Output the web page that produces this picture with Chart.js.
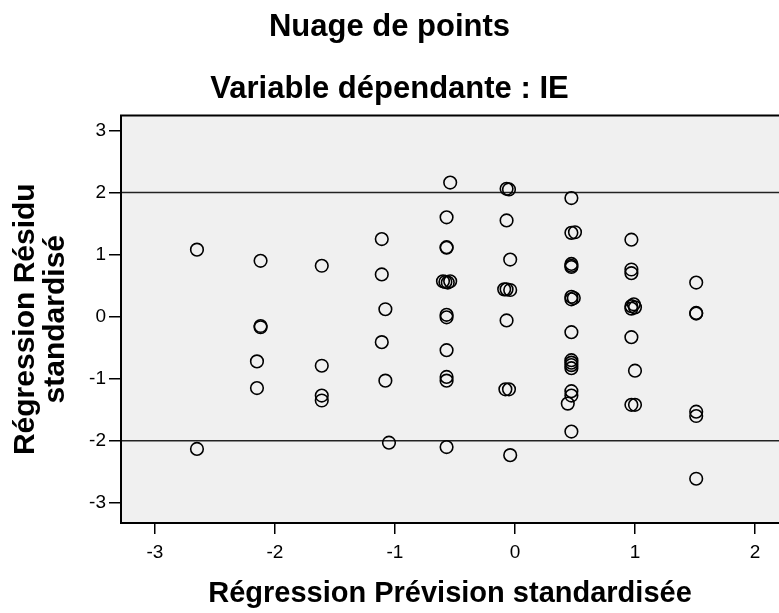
<!DOCTYPE html>
<html>
<head>
<meta charset="utf-8">
<script src="https://cdn.jsdelivr.net/npm/chart.js@4/dist/chart.umd.min.js"></script>
<style>
  html, body { margin: 0; padding: 0; background: #fff; }
  #wrap { width: 779px; height: 613px; }
</style>
</head>
<body>
<div id="wrap"><canvas id="chart"></canvas></div>
<script>
// predicted (x) and residual (y) values, read column by column
const predicted = [
  -2.65, -2.65,
  -2.12, -2.12, -2.12, -2.15, -2.15,
  -1.61, -1.61, -1.61, -1.61,
  -1.11, -1.11, -1.08, -1.11, -1.08, -1.05,
  -0.54, -0.57, -0.57, -0.57, -0.60, -0.58, -0.56, -0.54, -0.57, -0.57, -0.57, -0.57, -0.57, -0.57,
  -0.07, -0.05, -0.07, -0.04, -0.09, -0.07, -0.04, -0.07, -0.08, -0.05, -0.04,
  0.47, 0.47, 0.50, 0.47, 0.47, 0.47, 0.47, 0.49, 0.47, 0.47, 0.47, 0.47, 0.47, 0.47, 0.47, 0.47, 0.44, 0.47,
  0.97, 0.97, 0.97, 0.97, 0.99, 1.00, 0.97, 0.97, 1.00, 0.97, 1.00,
  1.51, 1.51, 1.51, 1.51, 1.51, 1.51
];
const residual = [
  1.08, -2.13,
  0.90, -0.15, -0.17, -0.72, -1.15,
  0.82, -0.79, -1.27, -1.35,
  1.25, 0.68, 0.12, -0.41, -1.03, -2.03,
  2.16, 1.60, 1.11, 1.12, 0.57, 0.56, 0.55, 0.57, 0.03, -0.01, -0.54, -0.97, -1.03, -2.10,
  2.06, 2.05, 1.55, 0.92, 0.44, 0.44, 0.43, -0.06, -1.17, -1.17, -2.23,
  1.91, 1.35, 1.36, 0.85, 0.82, 0.80, 0.32, 0.30, 0.28, -0.25, -0.70, -0.74, -0.78, -0.83, -1.20, -1.27, -1.40, -1.85,
  1.24, 0.76, 0.70, 0.17, 0.20, 0.15, 0.13, -0.33, -0.87, -1.42, -1.42,
  0.55, 0.06, 0.05, -1.53, -1.60, -2.61
];
const refLines = [2, -2];
const xMin = -3.283, xMax = 2.2;
const yMin = -3.323, yMax = 3.242;

const points = predicted.map((x, i) => ({ x: x, y: residual[i] }));

const datasets = refLines.map(v => ({
  type: 'line',
  data: [{ x: xMin, y: v }, { x: xMax, y: v }],
  borderColor: '#222',
  borderWidth: 1.5,
  pointRadius: 0,
  order: 2,
}));
datasets.push({
  type: 'scatter',
  data: points,
  pointStyle: 'circle',
  pointRadius: 6.3,
  borderColor: '#000',
  borderWidth: 1.6,
  backgroundColor: 'rgba(0,0,0,0)',
  order: 1,
});

const frame = {
  id: 'frame',
  beforeDraw(chart) {
    const { ctx, chartArea: a } = chart;
    ctx.save();
    ctx.fillStyle = '#f0f0f0';
    ctx.fillRect(a.left, a.top, a.right - a.left, a.bottom - a.top);
    ctx.restore();
  },
  afterDraw(chart) {
    const { ctx, chartArea: a } = chart;
    ctx.save();
    ctx.strokeStyle = '#000';
    ctx.lineWidth = 2;
    ctx.beginPath();
    ctx.moveTo(a.right + 2, a.top);
    ctx.lineTo(a.left, a.top);
    ctx.lineTo(a.left, a.bottom);
    ctx.lineTo(a.right + 2, a.bottom);
    ctx.stroke();
    ctx.restore();
  }
};

const font = '"Liberation Sans", Arial, sans-serif';

new Chart(document.getElementById('chart'), {
  type: 'scatter',
  data: { datasets: datasets },
  plugins: [frame],
  options: {
    responsive: true,
    maintainAspectRatio: false,
    animation: false,
    layout: { padding: 0, autoPadding: false },
    plugins: {
      legend: { display: false },
      tooltip: { enabled: false },
      title: {
        display: true,
        text: 'Nuage de points',
        color: '#000',
        font: { family: font, size: 31, weight: 'bold', lineHeight: 1.2 },
        padding: { top: 9, bottom: 0 },
      },
      subtitle: {
        display: true,
        text: 'Variable dépendante : IE',
        color: '#000',
        font: { family: font, size: 31, weight: 'bold', lineHeight: 1.2 },
        padding: { top: 25, bottom: 7 },
      },
    },
    scales: {
      x: {
        type: 'linear',
        min: xMin,
        max: xMax,
        afterFit(scale) {
          scale.height = 90;
          scale.paddingLeft = 0;
          scale.paddingRight = 0;
        },
        ticks: {
          stepSize: 1,
          includeBounds: false,
          color: '#000',
          padding: 7,
          font: { family: font, size: 19 },
        },
        grid: { drawOnChartArea: false, drawTicks: true, tickLength: 11, color: '#000', lineWidth: 1.5 },
        border: { display: false },
        title: {
          display: true,
          text: 'Régression Prévision standardisée',
          color: '#000',
          font: { family: font, size: 29, weight: 'bold', lineHeight: 1.2 },
          padding: { top: 0, bottom: 2 },
        },
      },
      y: {
        type: 'linear',
        min: yMin,
        max: yMax,
        afterFit(scale) {
          scale.width = 121;
          scale.paddingTop = 0;
          scale.paddingBottom = 0;
        },
        ticks: {
          stepSize: 1,
          includeBounds: false,
          color: '#000',
          padding: 3,
          font: { family: font, size: 19 },
        },
        grid: { drawOnChartArea: false, drawTicks: true, tickLength: 12, color: '#000', lineWidth: 1.5 },
        border: { display: false },
        title: {
          display: true,
          text: ['Régression Résidu', 'standardisé'],
          color: '#000',
          font: { family: font, size: 30, weight: 'bold', lineHeight: 1.0 },
          padding: { top: 11, bottom: 0 },
        },
      },
    },
  },
});
</script>
</body>
</html>
